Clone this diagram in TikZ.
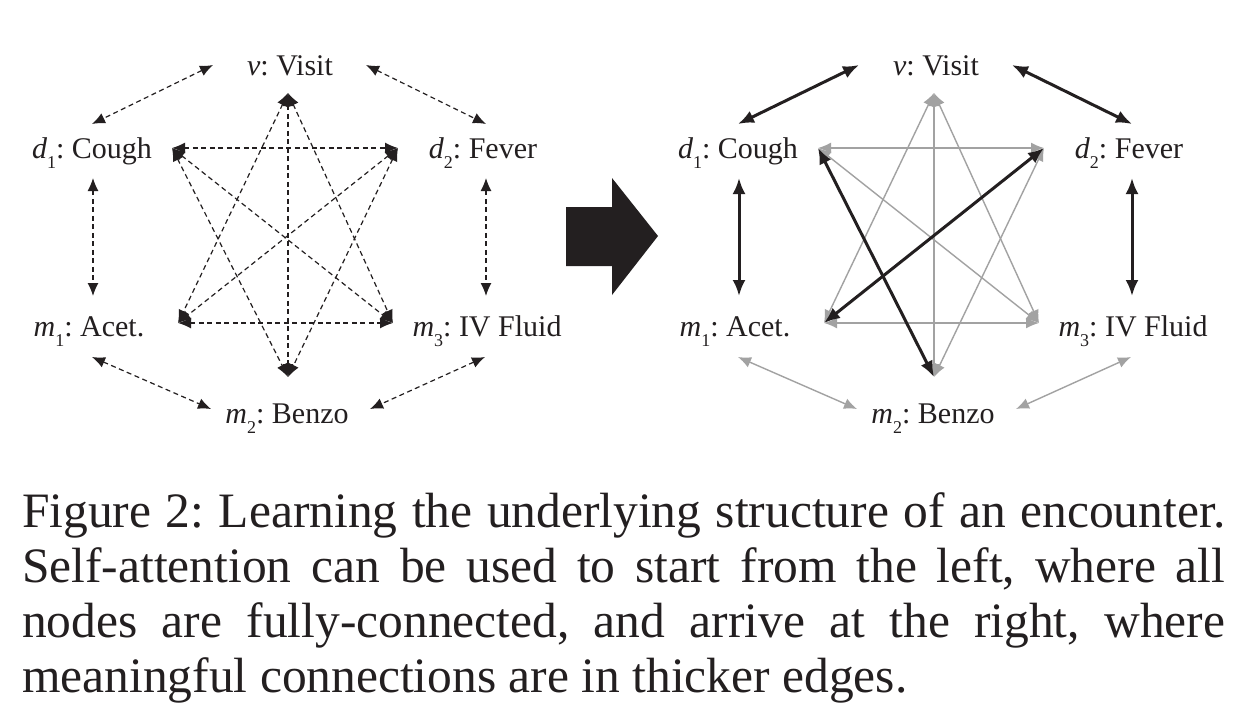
\documentclass[tikz,border=0pt]{standalone}
\usepackage{fontspec}
\setmainfont{Liberation Serif}
\usetikzlibrary{arrows.meta}
\definecolor{ink}{RGB}{35,31,32}
\definecolor{lite}{RGB}{162,162,162}
\setlength\parindent{0pt}
\frenchspacing
\newcommand\sublbl[3]{\textit{#1}\raisebox{-0.34em}{\fontsize{18}{18}\selectfont #2}: #3}
\newcommand\placelabels[1]{%
  \node[lbl] (#1-v)  at (290,75)  {\textit{v}: Visit};
  \node[lbl] (#1-d1) at (92,158)  {\sublbl{d}{1}{Cough}};
  \node[lbl] (#1-d2) at (483,158) {\sublbl{d}{2}{Fever}};
  \node[lbl] (#1-m1) at (89,336)  {\sublbl{m}{1}{Acet.}};
  \node[lbl] (#1-m3) at (487,336) {\sublbl{m}{3}{IV Fluid}};
  \node[lbl] (#1-m2) at (287,423) {\sublbl{m}{2}{Benzo}};
}
\newcommand\placepoints[1]{%
  \coordinate (#1-vA)  at (213,65);
  \coordinate (#1-d1A) at (92,124);
  \coordinate (#1-vB)  at (366,65);
  \coordinate (#1-d2A) at (486,124);
  \coordinate (#1-d1B) at (93,178);
  \coordinate (#1-m1A) at (93,296);
  \coordinate (#1-d2B) at (486,178);
  \coordinate (#1-m3A) at (486,296);
  \coordinate (#1-m1B) at (92,357);
  \coordinate (#1-m2A) at (211,409);
  \coordinate (#1-m3B) at (485,357);
  \coordinate (#1-m2B) at (370,409);
  \coordinate (#1-t) at (288,93);
  \coordinate (#1-a) at (172,148);
  \coordinate (#1-b) at (398,148);
  \coordinate (#1-c) at (178,323);
  \coordinate (#1-d) at (393,323);
  \coordinate (#1-e) at (288,377);
}
\begin{document}
\begin{tikzpicture}[x=1pt,y=-1pt,
  lbl/.style={anchor=base,inner sep=0pt,text=ink,font=\fontsize{30}{36}\selectfont},
  dasharr/.style={draw=ink,line width=1.2pt,dash pattern=on 5pt off 3.5pt,
     {Latex[length=13pt,width=11pt]}-{Latex[length=13pt,width=11pt]}},
  thinarr/.style={draw=lite,line width=1.4pt,
     {Latex[length=13pt,width=11pt]}-{Latex[length=13pt,width=11pt]}},
  thickarr/.style={draw=ink,line width=3pt,
     {Latex[length=16pt,width=13pt]}-{Latex[length=16pt,width=13pt]}},
]
\useasboundingbox (0,0) rectangle (1247,718);
\fill[white] (0,0) rectangle (1247,718);

% left diagram
\begin{scope}
  \placelabels{L}
  \placepoints{L}
  \foreach \p/\q in {vA/d1A,vB/d2A,d1B/m1A,d2B/m3A,m1B/m2A,m3B/m2B,
                     t/c,t/d,t/e,a/b,a/d,a/e,b/c,b/e,c/d}
    \draw[dasharr] (L-\p) -- (L-\q);
\end{scope}

% block arrow
\fill[ink] (566,207) -- (612,207) -- (612,178) -- (658,236) -- (612,295)
  -- (612,266) -- (566,266) -- cycle;

% right diagram
\begin{scope}[xshift=646pt]
  \placelabels{R}
  \placepoints{R}
  \foreach \p/\q in {m1B/m2A,m3B/m2B,t/c,t/d,t/e,a/b,a/d,b/e,c/d}
    \draw[thinarr] (R-\p) -- (R-\q);
  \foreach \p/\q in {vA/d1A,vB/d2A,d1B/m1A,d2B/m3A,a/e,b/c}
    \draw[thickarr] (R-\p) -- (R-\q);
\end{scope}

% caption
\node[anchor=north west,inner sep=0pt,text width=1203pt,align=justify,text=ink,
      font=\fontsize{49.5}{55}\selectfont] (cap) at (22,492)
  {Figure 2: Learning the underlying structure of an encounter.\linebreak
   Self-attention can be used to start from the left, where all\linebreak
   nodes are fully-connected, and arrive at the right, where\linebreak
   meaningful connections are in thicker edges.};
\end{tikzpicture}
\end{document}
